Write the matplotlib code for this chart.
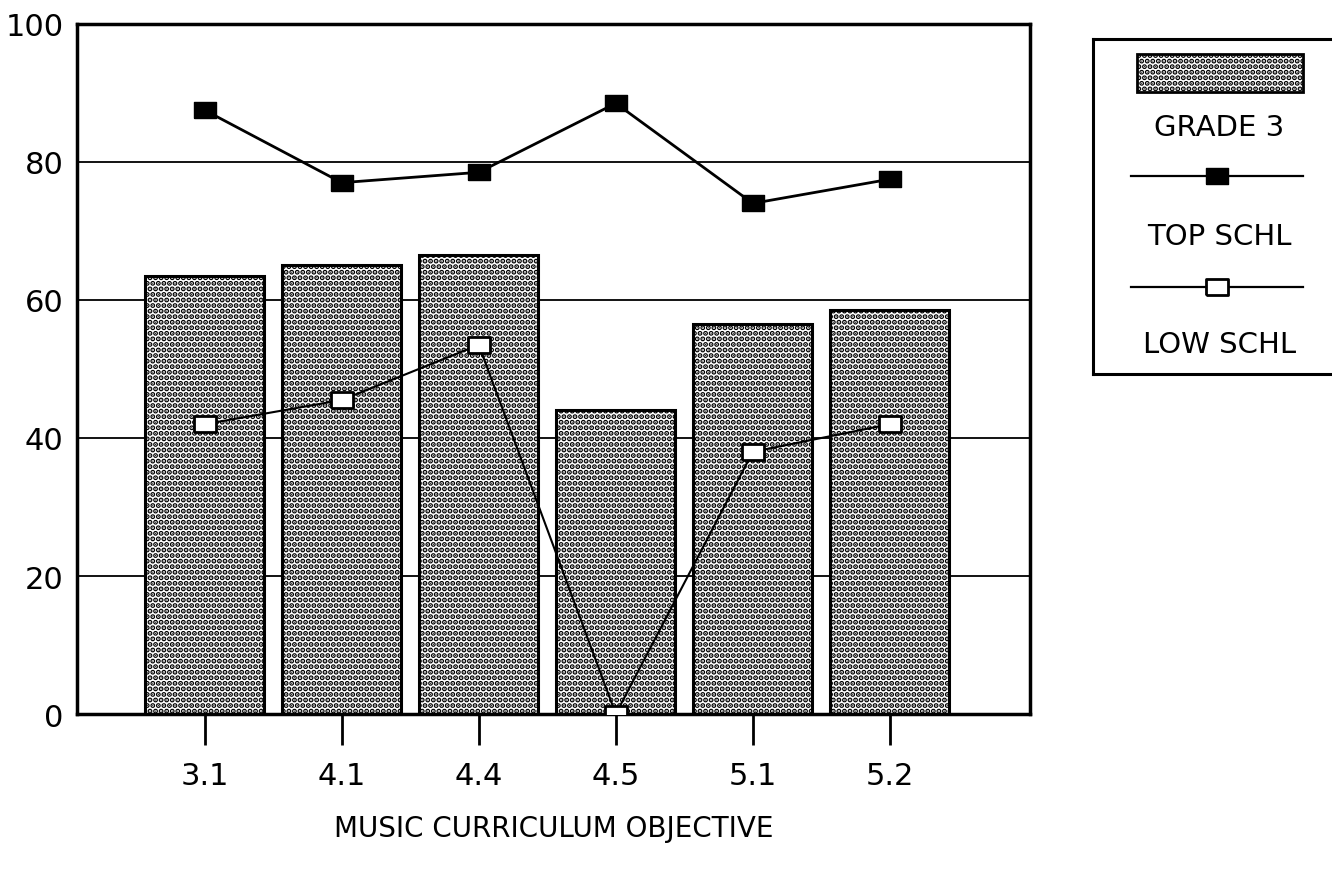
import matplotlib
matplotlib.use("Agg")
from matplotlib import pyplot as plt
from matplotlib.patches import Rectangle
import numpy as np

plt.rcParams['font.family'] = ['DejaVu Sans']
plt.rcParams['hatch.linewidth'] = 2.6

objectives = ["3.1", "4.1", "4.4", "4.5", "5.1", "5.2"]
grade3 = [63.5, 65, 66.5, 44, 56.5, 58.5]
top_schl = [87.5, 77, 78.5, 88.5, 74, 77.5]
low_schl = [42, 45.5, 53.5, 0, 38, 42]
y_ticks = [0, 20, 40, 60, 80, 100]

# wide rectangle marker like the old plotter output
rect = [(-1.35, -1), (1.35, -1), (1.35, 1), (-1.35, 1), (-1.35, -1)]

fig = plt.figure(figsize=(13.32, 8.78), dpi=100)
ax = fig.add_axes([0.058, 0.1856, 0.715, 0.786])

x = np.arange(len(objectives))

for yv in y_ticks[1:-1]:
    ax.axhline(yv, color='black', lw=1.3, zorder=1)

ax.bar(x, grade3, width=0.87, facecolor='white', edgecolor='black',
       hatch='...', lw=2.2, zorder=2)
ax.plot(x, top_schl, color='black', lw=2, marker=rect, ms=16,
        mfc='black', mec='black', zorder=3)
ax.plot(x, low_schl, color='black', lw=1.5, marker=rect, ms=16,
        mfc='white', mec='black', mew=2, zorder=3)

ax.set_xlim(-0.93, 6.02)
ax.set_ylim(0, 100)
ax.set_xticks(x)
ax.set_xticklabels(objectives, fontsize=22)
ax.set_yticks(y_ticks)
ax.set_yticklabels([str(v) for v in y_ticks], fontsize=22)
ax.tick_params(axis='x', direction='out', length=22, width=2, pad=12)
ax.tick_params(axis='y', length=0, pad=10)
for s in ax.spines.values():
    s.set_linewidth(2.5)
ax.set_xlabel("MUSIC CURRICULUM OBJECTIVE", fontsize=20, labelpad=17)

# legend drawn by hand: label sits under each key
lg = fig.add_axes([0.8206, 0.573, 0.19, 0.3815])
lg.set_xlim(0, 1)
lg.set_ylim(0, 1)
lg.set_xticks([])
lg.set_yticks([])
for s in lg.spines.values():
    s.set_linewidth(2.2)
lg.add_patch(Rectangle((0.174, 0.842), 0.656, 0.113, facecolor='white',
                       edgecolor='black', hatch='...', lw=2))
lg.text(0.5, 0.737, "GRADE 3", fontsize=21, ha='center', va='center')
lg.plot([0.15, 0.83], [0.591, 0.591], color='black', lw=1.6)
lg.plot([0.49], [0.591], marker=rect, ms=16, mfc='black', mec='black')
lg.text(0.5, 0.412, "TOP SCHL", fontsize=21, ha='center', va='center')
lg.plot([0.15, 0.83], [0.26, 0.26], color='black', lw=1.6)
lg.plot([0.49], [0.26], marker=rect, ms=16, mfc='white', mec='black', mew=2)
lg.text(0.5, 0.09, "LOW SCHL", fontsize=21, ha='center', va='center')

fig.savefig("out.png", dpi=100)
